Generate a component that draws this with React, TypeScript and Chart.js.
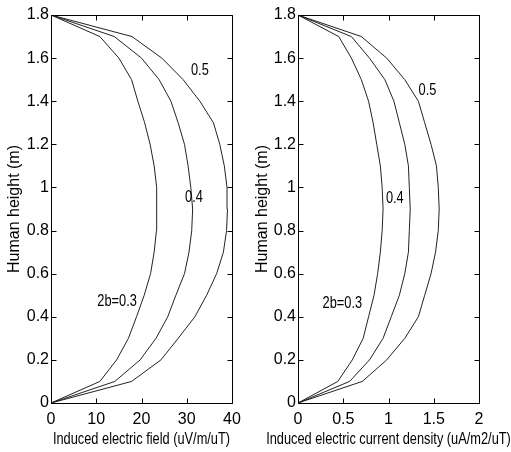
import { useEffect, useRef } from 'react';
import { Chart, registerables } from 'chart.js';

Chart.register(...registerables);

// Human height levels (m)
const heights = [0, 0.1, 0.2, 0.3, 0.4, 0.5, 0.6, 0.7, 0.8, 0.9, 1.0, 1.1, 1.2, 1.3, 1.4, 1.5, 1.6, 1.7, 1.8];

// Induced electric field (uV/m/uT) for 2b = 0.3, 0.4, 0.5
const field03 = [0, 10.8, 14.5, 17.1, 18.9, 20.6, 22.0, 22.8, 23.3, 23.4, 23.3, 22.8, 21.9, 20.7, 19.2, 17.8, 15.0, 10.8, 0];
const field04 = [0, 14.1, 19.7, 23.2, 25.8, 27.6, 29.5, 30.5, 31.1, 31.3, 30.9, 30.3, 29.5, 28.1, 26.5, 23.9, 20.0, 14.0, 0];
const field05 = [0, 17.8, 24.3, 28.1, 31.8, 34.4, 36.6, 38.1, 38.8, 39.0, 38.9, 38.3, 37.3, 35.9, 32.9, 29.2, 24.5, 17.9, 0];

// Induced electric current density (uA/m2/uT) for 2b = 0.3, 0.4, 0.5
const current03 = [0, 0.44, 0.60, 0.72, 0.78, 0.84, 0.88, 0.91, 0.93, 0.94, 0.93, 0.91, 0.87, 0.83, 0.78, 0.70, 0.59, 0.45, 0];
const current04 = [0, 0.57, 0.79, 0.94, 1.03, 1.12, 1.18, 1.22, 1.23, 1.24, 1.23, 1.22, 1.18, 1.12, 1.06, 0.96, 0.79, 0.59, 0];
const current05 = [0, 0.71, 0.98, 1.18, 1.33, 1.40, 1.47, 1.52, 1.55, 1.56, 1.55, 1.53, 1.47, 1.40, 1.33, 1.18, 0.98, 0.70, 0];

// Curve labels (text and anchor in data coordinates)
const curveLabels = ['2b=0.3', '0.4', '0.5'];
const fieldLabelX = [14.6, 31.6, 32.9];
const fieldLabelY = [0.47, 0.955, 1.54];
const currentLabelX = [0.49, 1.07, 1.43];
const currentLabelY = [0.46, 0.95, 1.447];

const fieldTitle = 'Induced electric field (uV/m/uT)';
const currentTitle = 'Induced electric current density (uA/m2/uT)';
const heightTitle = 'Human height (m)';

const REG = "'Liberation Sans', Arial, Helvetica, sans-serif";
const LINE = '#222';
const SQUEEZE = 0.8;

const fmt = (v: number | string) => String(Number(Number(v).toFixed(3)));

const framePlugin = {
  id: 'matlabFrame',
  afterDraw(chart: any) {
    const { ctx, chartArea: a, scales } = chart;
    const xs = scales.x;
    const ys = scales.y;
    const L = Math.round(a.left) + 0.5;
    const R = Math.round(a.right) + 0.5;
    const T = Math.round(a.top) + 0.5;
    const B = Math.round(a.bottom) + 0.5;
    ctx.save();
    ctx.strokeStyle = '#000';
    ctx.lineWidth = 1;
    ctx.beginPath();
    ctx.rect(L, T, R - L, B - T);
    const len = 5;
    xs.ticks.forEach((_: any, i: number) => {
      const px = Math.round(xs.getPixelForTick(i)) + 0.5;
      ctx.moveTo(px, B);
      ctx.lineTo(px, B - len);
      ctx.moveTo(px, T);
      ctx.lineTo(px, T + len);
    });
    ys.ticks.forEach((_: any, i: number) => {
      const py = Math.round(ys.getPixelForTick(i)) + 0.5;
      ctx.moveTo(L, py);
      ctx.lineTo(L + len, py);
      ctx.moveTo(R, py);
      ctx.lineTo(R - len, py);
    });
    ctx.stroke();
    const lab = chart.options.plugins.matlabFrame;
    if (lab) {
      ctx.fillStyle = '#000';
      ctx.font = `16px ${REG}`;
      ctx.textAlign = 'center';
      ctx.textBaseline = 'middle';
      const put = (t: string, x: number, y: number) => {
        const w = ctx.measureText(t).width;
        ctx.fillText(t, x, y, w * SQUEEZE);
      };
      lab.texts.forEach((t: string, i: number) => {
        put(t, xs.getPixelForValue(lab.xs[i]), ys.getPixelForValue(lab.ys[i]));
      });
      // x-axis title, centred under the plot area
      put(lab.xTitle, (a.left + a.right) / 2, 440);
    }
    ctx.restore();
  },
};

function makeConfig(
  series: number[][],
  xMax: number,
  xStep: number,
  xTitle: string,
  yAxisWidth: number,
  rightPad: number,
  yTitlePad: number,
  labelXs: number[],
  labelYs: number[],
): any {
  return {
    type: 'scatter',
    data: {
      datasets: series.map((vals) => ({
        data: vals.map((v, i) => ({ x: v, y: heights[i] })),
        showLine: true,
        borderColor: LINE,
        borderWidth: 1,
        pointRadius: 0,
        fill: false,
        tension: 0,
      })),
    },
    options: {
      responsive: false,
      animation: false,
      layout: { padding: { left: 0, top: 15, right: rightPad, bottom: 0 } },
      plugins: {
        legend: { display: false },
        tooltip: { enabled: false },
        matlabFrame: { texts: curveLabels, xs: labelXs, ys: labelYs, xTitle },
      },
      scales: {
        x: {
          type: 'linear',
          min: 0,
          max: xMax,
          grid: { display: false, drawTicks: false },
          border: { display: false },
          ticks: {
            stepSize: xStep,
            padding: 7,
            color: '#000',
            font: { family: REG, size: 16 },
            maxRotation: 0,
            autoSkip: false,
            callback: (v: number) => fmt(v),
          },
          title: { display: false },
          afterFit(scale: any) {
            scale.height = 49;
          },
        },
        y: {
          type: 'linear',
          min: 0,
          max: 1.8,
          grid: { display: false, drawTicks: false },
          border: { display: false },
          ticks: {
            stepSize: 0.2,
            padding: 2,
            color: '#000',
            font: { family: REG, size: 16 },
            autoSkip: false,
            callback: (v: number) => fmt(v),
          },
          title: {
            display: true,
            text: heightTitle,
            color: '#000',
            font: { family: REG, size: 16 },
            padding: { top: yTitlePad, bottom: 0 },
          },
          afterFit(scale: any) {
            scale.width = yAxisWidth;
          },
        },
      },
    },
    plugins: [framePlugin],
  };
}

export default function App() {
  const leftRef = useRef<HTMLCanvasElement>(null);
  const rightRef = useRef<HTMLCanvasElement>(null);

  useEffect(() => {
    const c1 = new Chart(
      leftRef.current as HTMLCanvasElement,
      makeConfig([field03, field04, field05], 40, 10, fieldTitle, 51, 23, 5.4, fieldLabelX, fieldLabelY),
    );
    const c2 = new Chart(
      rightRef.current as HTMLCanvasElement,
      makeConfig([current03, current04, current05], 2, 0.5, currentTitle, 48, 32, 3.4, currentLabelX, currentLabelY),
    );
    return () => {
      c1.destroy();
      c2.destroy();
    };
  }, []);

  return (
    <div style={{ position: 'absolute', left: 0, top: 0, width: 511, height: 452, background: '#fff', overflow: 'hidden' }}>
      <canvas ref={leftRef} width={255} height={452} style={{ position: 'absolute', left: 0, top: 0, width: 255, height: 452 }} />
      <canvas ref={rightRef} width={261} height={452} style={{ position: 'absolute', left: 250, top: 0, width: 261, height: 452 }} />
    </div>
  );
}
